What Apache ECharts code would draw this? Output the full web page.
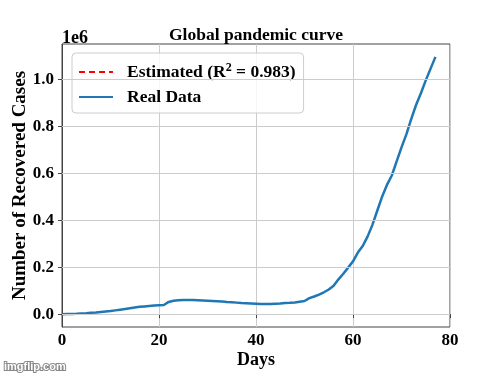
<!DOCTYPE html>
<html>
<head>
<meta charset="utf-8">
<script src="https://cdn.jsdelivr.net/npm/echarts@6/dist/echarts.min.js"></script>
<style>html,body{margin:0;padding:0;background:#fff}#c{width:500px;height:375px}</style>
</head>
<body>
<div id="c"></div>
<script>
var days = [];
for (var d = 0; d <= 77; d++) days.push(d);
var realData = [
0.000,0.0005,0.001,0.0015,0.003,0.004,0.006,0.007,0.009,0.011,
0.013,0.016,0.019,0.022,0.025,0.028,0.031,0.033,0.035,0.037,
0.038,0.039,0.052,0.057,0.059,0.060,0.060,0.060,0.059,0.058,
0.057,0.056,0.055,0.054,0.052,0.051,0.049,0.047,0.046,0.045,
0.044,0.043,0.043,0.043,0.044,0.045,0.047,0.048,0.050,0.053,
0.056,0.068,0.075,0.083,0.093,0.105,0.121,0.148,0.172,0.198,
0.225,0.262,0.290,0.330,0.380,0.440,0.500,0.550,0.590,0.650,
0.710,0.765,0.830,0.890,0.940,0.995,1.045,1.095
].map(function(v){return v*1e6;});
var estimatedData = [];
var yTicks = [0, 200000, 400000, 600000, 800000, 1000000];
var xTicks = [0, 20, 40, 60, 80];

var font = 'Liberation Serif';
var chart = echarts.init(document.getElementById('c'));
var yMin = -0.05475e6, yMax = 1.14975e6;
chart.setOption({
  animation: false,
  backgroundColor: '#fff',
  title: {
    text: 'Global pandemic curve', left: 251, top: 21, textAlign: 'center',
    textStyle: {fontFamily: font, fontWeight: 'bold', fontSize: 17.5, color: '#000'}
  },
  graphic: [
    {type: 'text', left: 62, top: 29, style: {text: '1e6', font: 'bold 18px "Liberation Serif"', fill: '#000'}},
    {type: 'text', left: 3, top: 360, style: {text: 'imgflip.com', font: 'bold 11px "Liberation Sans"', fill: '#fff', stroke: '#888', lineWidth: 2}}
  ],
  legend: {
    left: 72, top: 53, orient: 'vertical',
    itemWidth: 34, itemHeight: 12, itemGap: 7,
    padding: [9, 8, 7, 6],
    borderColor: '#ccc', borderWidth: 1, borderRadius: 4,
    backgroundColor: 'rgba(255,255,255,0.8)',
    itemStyle: {opacity: 0},
    data: ['Estimated', 'Real Data'],
    formatter: function(n){ return n === 'Estimated' ? 'Estimated (R{sup|2} = 0.983)' : 'Real Data'; },
    textStyle: {
      fontFamily: font, fontWeight: 'bold', fontSize: 17.5, color: '#000', padding: [0,0,0,9],
      rich: {sup: {fontFamily: font, fontSize: 12, verticalAlign: 'top', padding: [0,0,8,0], color: '#000'}}
    }
  },
  grid: {left: 62, right: 50, top: 44, bottom: 48, containLabel: false, outerBoundsMode: 'none',
    show: true, borderColor: '#444', borderWidth: 1},
  xAxis: {
    type: 'value', min: 0, max: 80, interval: 20,
    name: 'Days', nameLocation: 'middle', nameGap: 24, nameMoveOverlap: false,
    nameTextStyle: {fontFamily: font, fontWeight: 'bold', fontSize: 18, color: '#000'},
    axisLine: {show: true, lineStyle: {color: '#444'}},
    axisTick: {show: true, length: 4, lineStyle: {color: '#444'}},
    axisLabel: {fontFamily: font, fontWeight: 'bold', fontSize: 17, color: '#000', margin: 5,
      customValues: xTicks},
    splitLine: {show: true, lineStyle: {color: '#ccc', width: 1}}
  },
  yAxis: {
    type: 'value', min: yMin, max: yMax,
    name: 'Number of Recovered Cases', nameLocation: 'middle', nameGap: 32, nameMoveOverlap: false,
    nameTextStyle: {fontFamily: font, fontWeight: 'bold', fontSize: 19, color: '#000'},
    axisLine: {show: true, lineStyle: {color: '#444'}},
    axisTick: {show: true, length: 4, lineStyle: {color: '#444'}, customValues: yTicks},
    axisLabel: {fontFamily: font, fontWeight: 'bold', fontSize: 17, color: '#000', margin: 8,
      customValues: yTicks,
      formatter: function(v){ return (v/1e6).toFixed(1); }},
    splitLine: {show: false}
  },
  series: [
    {name: 'Estimated', type: 'line', symbol: 'none', data: estimatedData,
      lineStyle: {color: '#ff0000', type: [6, 4], width: 2.5}, itemStyle: {color: '#ff0000'}},
    {name: 'Real Data', type: 'line', symbol: 'none',
      data: days.map(function(d, i){ return [d, realData[i]]; }),
      lineStyle: {color: '#1f77b4', width: 2.5}, itemStyle: {color: '#1f77b4'},
      markLine: {silent: true, symbol: 'none', label: {show: false}, animation: false,
        lineStyle: {color: '#ccc', width: 1, type: 'solid'},
        data: yTicks.map(function(v){ return {yAxis: v}; })},
      z: 3}
  ]
});
</script>
</body>
</html>
